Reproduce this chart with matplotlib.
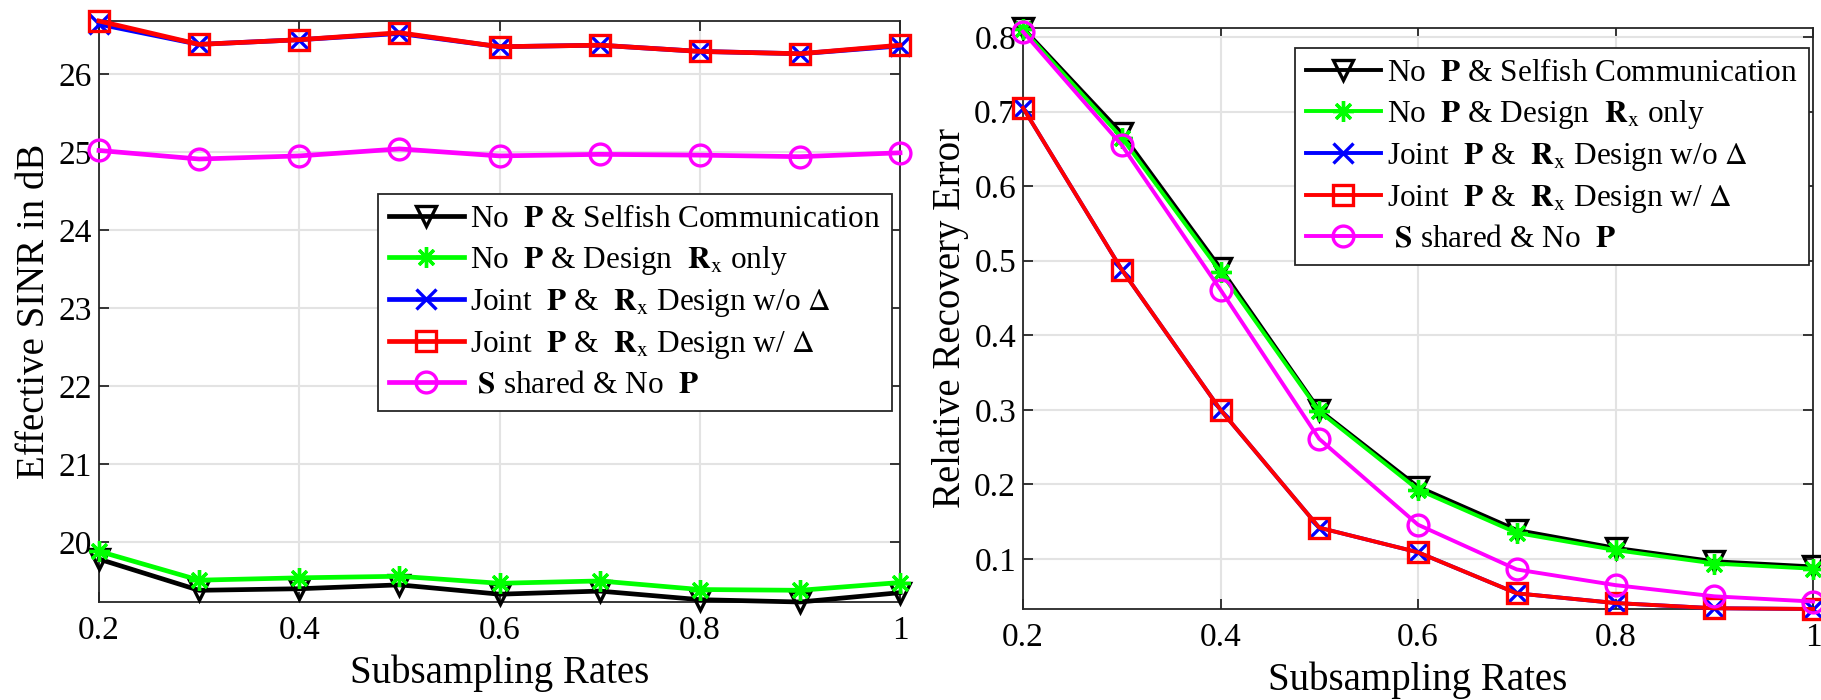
import numpy as np
import matplotlib.pyplot as plt

plt.rcParams['font.family'] = ['Liberation Serif', 'DejaVu Serif']
plt.rcParams['mathtext.fontset'] = 'stix'

# subsampling rates
rates = [0.2, 0.3, 0.4, 0.5, 0.6, 0.7, 0.8, 0.9, 1.0]

# left panel: effective SINR in dB
sinr_selfish = [19.78, 19.38, 19.40, 19.45, 19.33, 19.37, 19.26, 19.23, 19.35]
sinr_rx_only = [19.88, 19.51, 19.54, 19.56, 19.47, 19.50, 19.39, 19.38, 19.48]
sinr_joint_no_delta = [26.64, 26.38, 26.44, 26.52, 26.35, 26.37, 26.29, 26.26, 26.36]
sinr_joint_delta = [26.68, 26.38, 26.44, 26.53, 26.35, 26.37, 26.29, 26.26, 26.37]
sinr_shared = [25.02, 24.91, 24.95, 25.04, 24.95, 24.97, 24.96, 24.94, 24.99]

# right panel: relative recovery error
err_selfish = [0.812, 0.671, 0.490, 0.300, 0.197, 0.139, 0.115, 0.097, 0.090]
err_rx_only = [0.810, 0.665, 0.485, 0.298, 0.193, 0.135, 0.112, 0.094, 0.087]
err_joint_no_delta = [0.705, 0.488, 0.300, 0.142, 0.109, 0.054, 0.041, 0.034, 0.033]
err_joint_delta = [0.705, 0.488, 0.300, 0.142, 0.109, 0.054, 0.041, 0.034, 0.033]
err_shared = [0.807, 0.655, 0.461, 0.261, 0.146, 0.086, 0.065, 0.050, 0.043]

labels = [
    r'No  $\mathbf{P}$ & Selfish Communication',
    r'No  $\mathbf{P}$ & Design  $\mathbf{R}_{\mathrm{x}}$ only',
    r'Joint  $\mathbf{P}$ &  $\mathbf{R}_{\mathrm{x}}$ Design w/o $\Delta$',
    r'Joint  $\mathbf{P}$ &  $\mathbf{R}_{\mathrm{x}}$ Design w/ $\Delta$',
    r' $\mathbf{S}$ shared & No  $\mathbf{P}$',
]
colors = ['black', '#00ff00', '#0000ff', '#ff0000', '#ff00ff']
markers = ['v', (8, 2, 0), 'x', 's', 'o']

fig = plt.figure(figsize=(18.21, 7), dpi=100)
ax1 = fig.add_axes([99 / 1821, 1 - 602 / 700, 801 / 1821, 581 / 700])
ax2 = fig.add_axes([1023 / 1821, 1 - 609 / 700, 790 / 1821, 581 / 700])


def draw(ax, series, lw, ms):
    for ys, c, m, lab in zip(series, colors, markers, labels):
        ax.plot(rates, ys, color=c, lw=lw, marker=m, markersize=ms,
                markerfacecolor='none', markeredgecolor=c, markeredgewidth=2.4,
                label=lab, clip_on=False, zorder=3)
    ax.set_xlim(0.2, 1.0)
    ax.set_xticks([0.2, 0.4, 0.6, 0.8, 1.0])
    ax.set_xticklabels(['0.2', '0.4', '0.6', '0.8', '1'])
    ax.grid(True, color='#e3e3e3', lw=1.5)
    ax.set_axisbelow(True)
    ax.tick_params(direction='in', length=7, width=1.3, labelsize=24,
                   top=True, right=True, color='#262626')
    ax.tick_params(axis='x', pad=10)
    ax.tick_params(axis='y', pad=5)
    for s in ax.spines.values():
        s.set_linewidth(1.3)
        s.set_color('#262626')
    ax.set_xlabel('Subsampling Rates', fontsize=28, labelpad=6)


draw(ax1, [sinr_selfish, sinr_rx_only, sinr_joint_no_delta, sinr_joint_delta, sinr_shared], 3.4, 15)
ax1.set_ylim(19.23, 26.68)
ax1.set_yticks([20, 21, 22, 23, 24, 25, 26])
ax1.set_ylabel('Effective SINR in dB', fontsize=28, labelpad=4)

draw(ax2, [err_selfish, err_rx_only, err_joint_no_delta, err_joint_delta, err_shared], 2.8, 15)
ax2.set_ylim(0.033, 0.812)
ax2.set_yticks([0.1, 0.2, 0.3, 0.4, 0.5, 0.6, 0.7, 0.8])
ax2.set_yticklabels(['0.1', '0.2', '0.3', '0.4', '0.5', '0.6', '0.7', '0.8'])
ax2.set_ylabel('Relative Recovery Error', fontsize=28, labelpad=4)

for ax, anchor in [(ax1, (378 / 1821, 1 - 194 / 700)), (ax2, (1295 / 1821, 1 - 48 / 700))]:
    leg = ax.legend(loc='upper left', bbox_to_anchor=anchor, bbox_transform=fig.transFigure,
                    fontsize=22.5, fancybox=False, framealpha=1, edgecolor='#262626',
                    handlelength=2.4, handletextpad=0.2, borderpad=0.35,
                    labelspacing=0.32, borderaxespad=0)
    leg.get_frame().set_linewidth(1.3)
    leg.set_zorder(5)

fig.savefig('out.png', dpi=100)
